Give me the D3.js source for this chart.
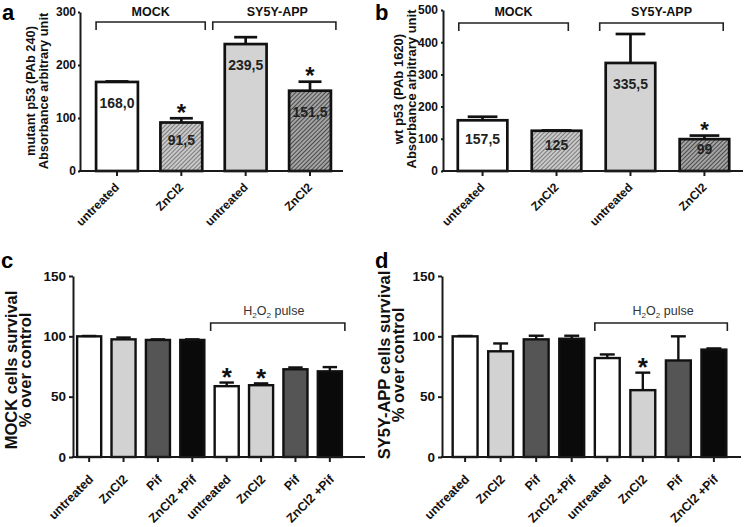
<!DOCTYPE html>
<html><head><meta charset="utf-8">
<script src="https://cdn.jsdelivr.net/npm/d3@7"></script>
<style>
body{margin:0;background:#fff}
svg{display:block}
text{font-family:"Liberation Sans",Arial,Helvetica,sans-serif}
</style>
</head><body>
<svg id="fig" width="746" height="527"></svg>
<script>
// ---------- data ----------
const abCategories = ["untreated", "ZnCl2", "untreated", "ZnCl2"];
const aValues = [168.0, 91.5, 239.5, 151.5];
const aErrors = [1, 8, 13, 17];
const aValueLabels = ["168,0", "91,5", "239,5", "151,5"];
const aSignificant = [false, true, false, true];
const aTicks = [0, 100, 200, 300];

const bValues = [157.5, 125, 335.5, 99];
const bErrors = [11, 1, 90, 11];
const bValueLabels = ["157,5", "125", "335,5", "99"];
const bSignificant = [false, false, false, true];
const bTicks = [0, 100, 200, 300, 400, 500];

const abGroups = ["MOCK", "SY5Y-APP"];

const cdCategories = ["untreated", "ZnCl2", "Pif", "ZnCl2 +Pif", "untreated", "ZnCl2", "Pif", "ZnCl2 +Pif"];
const cValues = [100, 97.5, 97, 97, 58.7, 59.5, 72.7, 71];
const cErrors = [0.3, 1.5, 0.5, 0.5, 3, 1.5, 1.5, 3.5];
const cSignificant = [false, false, false, false, true, true, false, false];

const dValues = [100, 87.6, 97.5, 98, 82, 55.4, 80, 89];
const dErrors = [0.3, 6.5, 3, 2.5, 3, 14.5, 20, 1];
const dSignificant = [false, false, false, false, false, true, false, false];
const cdTicks = [0, 50, 100, 150];

// ---------- drawing ----------
const svg = d3.select("#fig");
svg.append("rect").attr("width", 746).attr("height", 527).attr("fill", "#fff");
const defs = svg.append("defs");
function hatch(id, bg, fg) {
  const p = defs.append("pattern").attr("id", id)
    .attr("patternUnits", "userSpaceOnUse").attr("width", 3).attr("height", 3)
    .attr("patternTransform", "rotate(45)");
  p.append("rect").attr("width", 3).attr("height", 3).attr("fill", bg);
  p.append("line").attr("x1", 1.5).attr("y1", 0).attr("x2", 1.5).attr("y2", 3)
    .attr("stroke", fg).attr("stroke-width", 1.1);
}
hatch("hLight", "#cdcdcd", "#7a7a7a");
hatch("hDark", "#a9a9a9", "#4a4a4a");

const abFills = ["#ffffff", "url(#hLight)", "#d3d3d3", "url(#hDark)"];
const cdFills = ["#ffffff", "#d2d2d2", "#555555", "#0a0a0a", "#ffffff", "#d2d2d2", "#555555", "#0a0a0a"];

function drawPanel(p) {
  const g = svg.append("g");
  const n = p.values.length;
  const x = d3.scaleBand().domain(d3.range(n)).range(p.xRange)
    .paddingInner(p.pI).paddingOuter(p.pO);
  const y = d3.scaleLinear().domain([0, d3.max(p.ticks)]).range([p.y0, p.yTop]);
  const bw = x.bandwidth();

  // panel letter
  g.append("text").attr("x", p.letterPos[0]).attr("y", p.letterPos[1])
    .attr("font-size", 22).attr("font-weight", "bold").text(p.letter);

  // y axis
  const ya = g.append("g").attr("transform", `translate(${p.left},0)`)
    .call(d3.axisLeft(y).tickValues(p.ticks).tickSizeInner(p.yTickSize).tickSizeOuter(0).tickPadding(p.yTickPad));
  ya.select(".domain").attr("stroke", "#1a1a1a").attr("stroke-width", 2);
  ya.selectAll(".tick line").attr("stroke", "#1a1a1a").attr("stroke-width", 2);
  ya.selectAll(".tick text").attr("font-size", p.yTickFont).attr("font-weight", "bold")
    .attr("fill", "#111").attr("font-family", null);

  // y title
  p.title.forEach((t, i) => {
    g.append("text")
      .attr("transform", `translate(${p.titleX[i]},${p.titleY}) rotate(-90)`)
      .attr("text-anchor", "middle").attr("font-size", p.titleFont)
      .attr("font-weight", "bold").attr("fill", "#111").text(t);
  });

  // bars
  g.selectAll("rect.bar").data(p.values).join("rect").attr("class", "bar")
    .attr("x", (d, i) => x(i)).attr("width", bw)
    .attr("y", d => y(d)).attr("height", d => p.y0 - y(d))
    .attr("fill", (d, i) => p.fills[i]).attr("stroke", "#111").attr("stroke-width", p.barStroke);

  // error bars (upper only)
  const capW = bw * p.capFrac;
  p.values.forEach((v, i) => {
    const cx = x(i) + bw / 2, top = y(v + p.errors[i]);
    g.append("line").attr("x1", cx).attr("x2", cx).attr("y1", y(v)).attr("y2", top)
      .attr("stroke", "#111").attr("stroke-width", p.barStroke);
    g.append("line").attr("x1", cx - capW / 2).attr("x2", cx + capW / 2).attr("y1", top).attr("y2", top)
      .attr("stroke", "#111").attr("stroke-width", p.barStroke);
    if (p.signif[i]) {
      g.append("text").attr("x", cx).attr("y", top - 10 + 0.52 * p.starFont)
        .attr("text-anchor", "middle").attr("font-size", p.starFont).attr("font-weight", "bold")
        .attr("fill", "#111").text("*");
    }
    if (p.valueLabels) {
      const h = p.y0 - y(v);
      g.append("text").attr("x", cx).attr("y", y(v) + Math.min(26, h * 0.47))
        .attr("text-anchor", "middle").attr("font-size", 14).attr("font-weight", "bold")
        .attr("fill", "#222").text(p.valueLabels[i]);
    }
  });

  // x axis
  const xa = g.append("g").attr("transform", `translate(0,${p.y0})`)
    .call(d3.axisBottom(x).tickSizeInner(5).tickSizeOuter(0).tickFormat(i => p.cats[i]));
  xa.select(".domain").remove();
  xa.selectAll(".tick line").attr("stroke", "#1a1a1a").attr("stroke-width", 2);
  xa.selectAll(".tick text").attr("x", null).attr("y", null).attr("dy", null)
    .attr("text-anchor", "end").attr("font-size", p.xFont).attr("font-weight", "bold")
    .attr("fill", "#111").attr("font-family", null)
    .attr("transform", `translate(${p.xLabelOff[0]},${p.xLabelOff[1]}) rotate(-45)`);
  g.append("line").attr("x1", p.left - 1).attr("x2", p.axisEnd).attr("y1", p.y0).attr("y2", p.y0)
    .attr("stroke", "#1a1a1a").attr("stroke-width", 2);

  // brackets
  p.brackets.forEach(b => {
    const x0 = x(b.from) + b.pad[0], x1 = x(b.to) + bw + b.pad[1];
    g.append("path")
      .attr("d", `M${x0},${b.yTop + 8}L${x0},${b.yTop}L${x1},${b.yTop}L${x1},${b.yTop + 8}`)
      .attr("fill", "none").attr("stroke", "#222").attr("stroke-width", 1.6);
    const t = g.append("text").attr("x", (x0 + x1) / 2 + (b.dx || 0)).attr("y", b.labelY)
      .attr("text-anchor", "middle").attr("font-size", b.font)
      .attr("font-weight", b.bold ? "bold" : "normal").attr("fill", b.bold ? "#111" : "#333");
    if (b.h2o2) {
      t.append("tspan").text("H");
      t.append("tspan").attr("font-size", b.font * 0.65).attr("dy", 3).text("2");
      t.append("tspan").attr("dy", -3).text("O");
      t.append("tspan").attr("font-size", b.font * 0.65).attr("dy", 3).text("2");
      t.append("tspan").attr("dy", -3).text(" pulse");
    } else {
      t.text(b.label);
    }
  });
}

drawPanel({
  letter: "a", letterPos: [2, 20],
  values: aValues, errors: aErrors, valueLabels: aValueLabels, signif: aSignificant,
  cats: abCategories, fills: abFills, ticks: aTicks,
  left: 80, axisEnd: 343, xRange: [80, 347], pI: 0.35, pO: 0.25,
  y0: 171, yTop: 12, yTickFont: 12, yTickSize: 2, yTickPad: 2, xFont: 12, xLabelOff: [3, 17],
  title: ["mutant p53 (PAb 240)", "Absorbance arbitrary unit"], titleX: [35, 47.5], titleY: 91, titleFont: 12.8,
  barStroke: 2.7, capFrac: 0.55, starFont: 24,
  brackets: [
    { from: 0, to: 1, pad: [0, 3], yTop: 22, labelY: 16, label: abGroups[0], font: 12.5, bold: true },
    { from: 2, to: 3, pad: [-12, 5], yTop: 22, labelY: 16, label: abGroups[1], font: 12.5, bold: true, dx: 3 }
  ]
});

drawPanel({
  letter: "b", letterPos: [375, 20],
  values: bValues, errors: bErrors, valueLabels: bValueLabels, signif: bSignificant,
  cats: abCategories, fills: abFills, ticks: bTicks,
  left: 443, axisEnd: 743, xRange: [443, 744], pI: 0.33, pO: 0.2,
  y0: 171, yTop: 10, yTickFont: 12, yTickSize: 2, yTickPad: 3, xFont: 12, xLabelOff: [3, 17],
  title: ["wt p53 (PAb 1620)", "Absorbance arbitrary unit"], titleX: [403, 416], titleY: 89, titleFont: 13,
  barStroke: 2.7, capFrac: 0.6, starFont: 22,
  brackets: [
    { from: 0, to: 1, pad: [1, -13], yTop: 23, labelY: 16, label: abGroups[0], font: 12.5, bold: true },
    { from: 2, to: 3, pad: [-6, -6], yTop: 23, labelY: 16, label: abGroups[1], font: 12.5, bold: true }
  ]
});

drawPanel({
  letter: "c", letterPos: [1, 268],
  values: cValues, errors: cErrors, valueLabels: null, signif: cSignificant,
  cats: cdCategories, fills: cdFills, ticks: cdTicks,
  left: 73, axisEnd: 365, xRange: [73, 346], pI: 0.30, pO: 0.12,
  y0: 457, yTop: 276, yTickFont: 13.5, yTickSize: 4, yTickPad: 3, xFont: 12.5, xLabelOff: [5, 23],
  title: ["MOCK cells survival", "% over control"], titleX: [17, 31], titleY: 370, titleFont: 16.5,
  barStroke: 2.4, capFrac: 0.6, starFont: 26,
  brackets: [
    { from: 4, to: 7, pad: [-4, 3], yTop: 323, labelY: 315, label: "", font: 12.5, bold: false, h2o2: true, dx: -4 }
  ]
});

drawPanel({
  letter: "d", letterPos: [375, 268],
  values: dValues, errors: dErrors, valueLabels: null, signif: dSignificant,
  cats: cdCategories, fills: cdFills, ticks: cdTicks,
  left: 442, axisEnd: 741, xRange: [442, 737], pI: 0.30, pO: 0.30,
  y0: 457, yTop: 276, yTickFont: 13.5, yTickSize: 4, yTickPad: 3, xFont: 12.5, xLabelOff: [5, 23],
  title: ["SY5Y-APP cells survival", "% over control"], titleX: [390, 404], titleY: 365, titleFont: 16.5,
  barStroke: 2.4, capFrac: 0.6, starFont: 26,
  brackets: [
    { from: 4, to: 7, pad: [0, 1], yTop: 323, labelY: 315, label: "", font: 12.5, bold: false, h2o2: true, dx: 2 }
  ]
});
</script>
</body></html>
